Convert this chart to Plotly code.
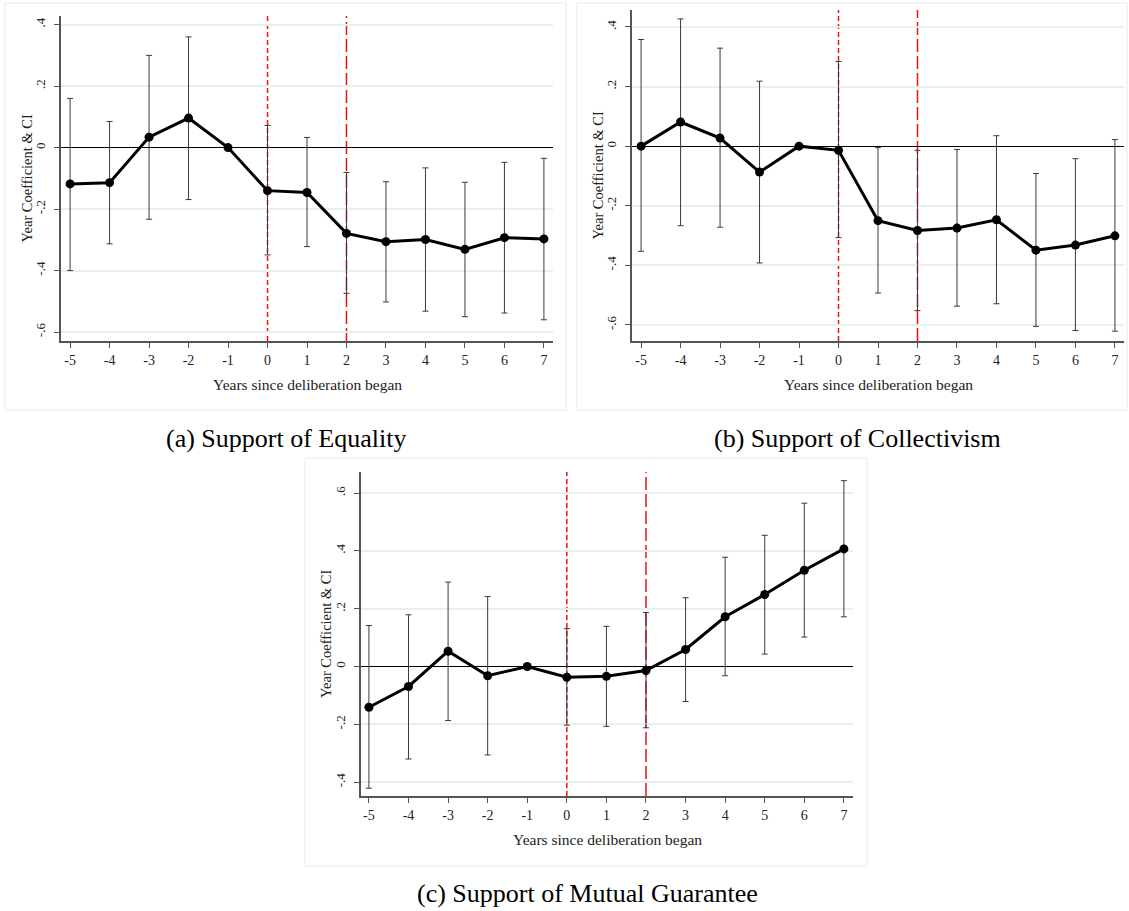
import plotly.graph_objects as go

W, H = 1129, 911

years = [-5, -4, -3, -2, -1, 0, 1, 2, 3, 4, 5, 6, 7]
x_ticktext = ["-5", "-4", "-3", "-2", "-1", "0", "1", "2", "3", "4", "5", "6", "7"]

# (a) Support of Equality
coef_a = [-0.118, -0.114, 0.034, 0.096, 0.0, -0.140, -0.146, -0.279, -0.306, -0.299, -0.331, -0.293, -0.297]
upper_a = [0.160, 0.085, 0.300, 0.360, 0.0, 0.072, 0.033, -0.081, -0.111, -0.066, -0.113, -0.048, -0.035]
lower_a = [-0.400, -0.313, -0.233, -0.169, 0.0, -0.349, -0.322, -0.474, -0.502, -0.532, -0.550, -0.538, -0.560]

# (b) Support of Collectivism
coef_b = [0.0, 0.081, 0.027, -0.087, 0.0, -0.014, -0.250, -0.283, -0.275, -0.247, -0.349, -0.332, -0.301]
upper_b = [0.358, 0.427, 0.329, 0.218, 0.0, 0.284, -0.005, -0.014, -0.011, 0.035, -0.092, -0.042, 0.022]
lower_b = [-0.353, -0.267, -0.272, -0.392, 0.0, -0.307, -0.493, -0.552, -0.537, -0.529, -0.605, -0.619, -0.621]

# (c) Support of Mutual Guarantee
coef_c = [-0.141, -0.069, 0.053, -0.032, 0.0, -0.037, -0.034, -0.014, 0.059, 0.172, 0.249, 0.333, 0.407]
upper_c = [0.142, 0.179, 0.292, 0.242, 0.0, 0.131, 0.139, 0.187, 0.238, 0.378, 0.454, 0.565, 0.643]
lower_c = [-0.421, -0.320, -0.187, -0.306, 0.0, -0.203, -0.207, -0.212, -0.121, -0.032, 0.043, 0.102, 0.172]

y_ticks_ab = [-0.6, -0.4, -0.2, 0.0, 0.2, 0.4]
y_ticktext_ab = ["-.6", "-.4", "-.2", "0", ".2", ".4"]
y_ticks_c = [-0.4, -0.2, 0.0, 0.2, 0.4, 0.6]
y_ticktext_c = ["-.4", "-.2", "0", ".2", ".4", ".6"]

captions = ["(a) Support of Equality", "(b) Support of Collectivism", "(c) Support of Mutual Guarantee"]
x_title = "Years since deliberation began"
y_title = "Year Coefficient &amp; CI"
event_years = [0, 2]

FONT = "Liberation Serif"

# panel geometry in pixels: plot area (left, right, top, bottom), y range
panels = [
    dict(xa="x", ya="y", L=61, R=553, T=16, B=341, yr=[-0.629, 0.428], xr=[-5.23, 7.23],
         coef=coef_a, up=upper_a, lo=lower_a, yt=y_ticks_ab, ytt=y_ticktext_ab,
         box=(5, 3, 566, 410), cap=(286, 438), cap_text=captions[0]),
    dict(xa="x2", ya="y2", L=632, R=1124, T=10, B=341, yr=[-0.654, 0.457], xr=[-5.23, 7.23],
         coef=coef_b, up=upper_b, lo=lower_b, yt=y_ticks_ab, ytt=y_ticktext_ab,
         box=(577, 3, 1127, 410), cap=(857, 438), cap_text=captions[1]),
    dict(xa="x3", ya="y3", L=361, R=853, T=472, B=796, yr=[-0.448, 0.673], xr=[-5.2, 7.23],
         coef=coef_c, up=upper_c, lo=lower_c, yt=y_ticks_c, ytt=y_ticktext_c,
         box=(305, 458, 867, 866), cap=(587, 893), cap_text=captions[2]),
]

fig = go.Figure()
shapes = []
annotations = []
layout = {}

for i, p in enumerate(panels):
    suffix = "" if i == 0 else str(i + 1)
    err_plus = [u - c for u, c in zip(p["up"], p["coef"])]
    err_minus = [c - l for c, l in zip(p["coef"], p["lo"])]
    fig.add_trace(go.Scatter(
        x=years, y=p["coef"], xaxis=p["xa"], yaxis=p["ya"],
        mode="lines+markers",
        line=dict(color="black", width=3),
        marker=dict(color="black", size=9),
        error_y=dict(type="data", symmetric=False, array=err_plus, arrayminus=err_minus,
                     color="#3a3a3a", thickness=1, width=3),
        showlegend=False, hoverinfo="skip",
    ))
    layout["xaxis" + suffix] = dict(
        domain=[p["L"] / W, p["R"] / W], range=p["xr"], anchor=p["ya"],
        tickvals=years, ticktext=x_ticktext, showgrid=False, zeroline=False,
        showline=True, linecolor="#555555", linewidth=1.5,
        ticks="outside", ticklen=5, tickcolor="#555555", tickwidth=1,
        tickfont=dict(family=FONT, size=14, color="#222222"), fixedrange=True,
    )
    layout["yaxis" + suffix] = dict(
        domain=[1 - p["B"] / H, 1 - p["T"] / H], range=p["yr"], anchor=p["xa"],
        tickvals=p["yt"], ticktext=p["ytt"], tickangle=-90, ticklabelstandoff=4,
        showgrid=True, gridcolor="#e6eff1", gridwidth=1.5,
        zeroline=True, zerolinecolor="black", zerolinewidth=1,
        showline=True, linecolor="#555555", linewidth=1.5,
        ticks="outside", ticklen=5, tickcolor="#555555", tickwidth=1,
        tickfont=dict(family=FONT, size=13, color="#222222"), fixedrange=True,
    )
    # event lines
    for ev, dash in zip(event_years, ["5px,3px", "13px,4px"]):
        shapes.append(dict(type="line", xref=p["xa"], yref=p["ya"] + " domain",
                           x0=ev, x1=ev, y0=0, y1=1, layer="below",
                           line=dict(color="#ee1111", width=1.5, dash=dash)))
    # panel frame
    bx0, by0, bx1, by1 = p["box"]
    shapes.append(dict(type="rect", xref="paper", yref="paper",
                       x0=bx0 / W, x1=bx1 / W, y0=1 - by1 / H, y1=1 - by0 / H,
                       line=dict(color="#e3eaec", width=1), layer="below"))
    # axis titles
    annotations.append(dict(text=x_title, xref="paper", yref="paper",
                            x=(p["L"] + p["R"]) / 2 / W, y=1 - (p["B"] + 43) / H,
                            xanchor="center", yanchor="middle", showarrow=False,
                            font=dict(family=FONT, size=15.5, color="#222222")))
    annotations.append(dict(text=y_title, xref="paper", yref="paper", textangle=-90,
                            x=(p["L"] - 35) / W, y=1 - (p["T"] + p["B"]) / 2 / H,
                            xanchor="center", yanchor="middle", showarrow=False,
                            font=dict(family=FONT, size=14.5, color="#222222")))
    cx, cy = p["cap"]
    annotations.append(dict(text=p["cap_text"], xref="paper", yref="paper",
                            x=cx / W, y=1 - cy / H, xanchor="center", yanchor="middle",
                            showarrow=False, font=dict(family=FONT, size=26, color="black")))

fig.update_layout(
    width=W, height=H, margin=dict(l=0, r=0, t=0, b=0),
    paper_bgcolor="white", plot_bgcolor="white",
    shapes=shapes, annotations=annotations, **layout,
)

fig.write_html("out.html")
